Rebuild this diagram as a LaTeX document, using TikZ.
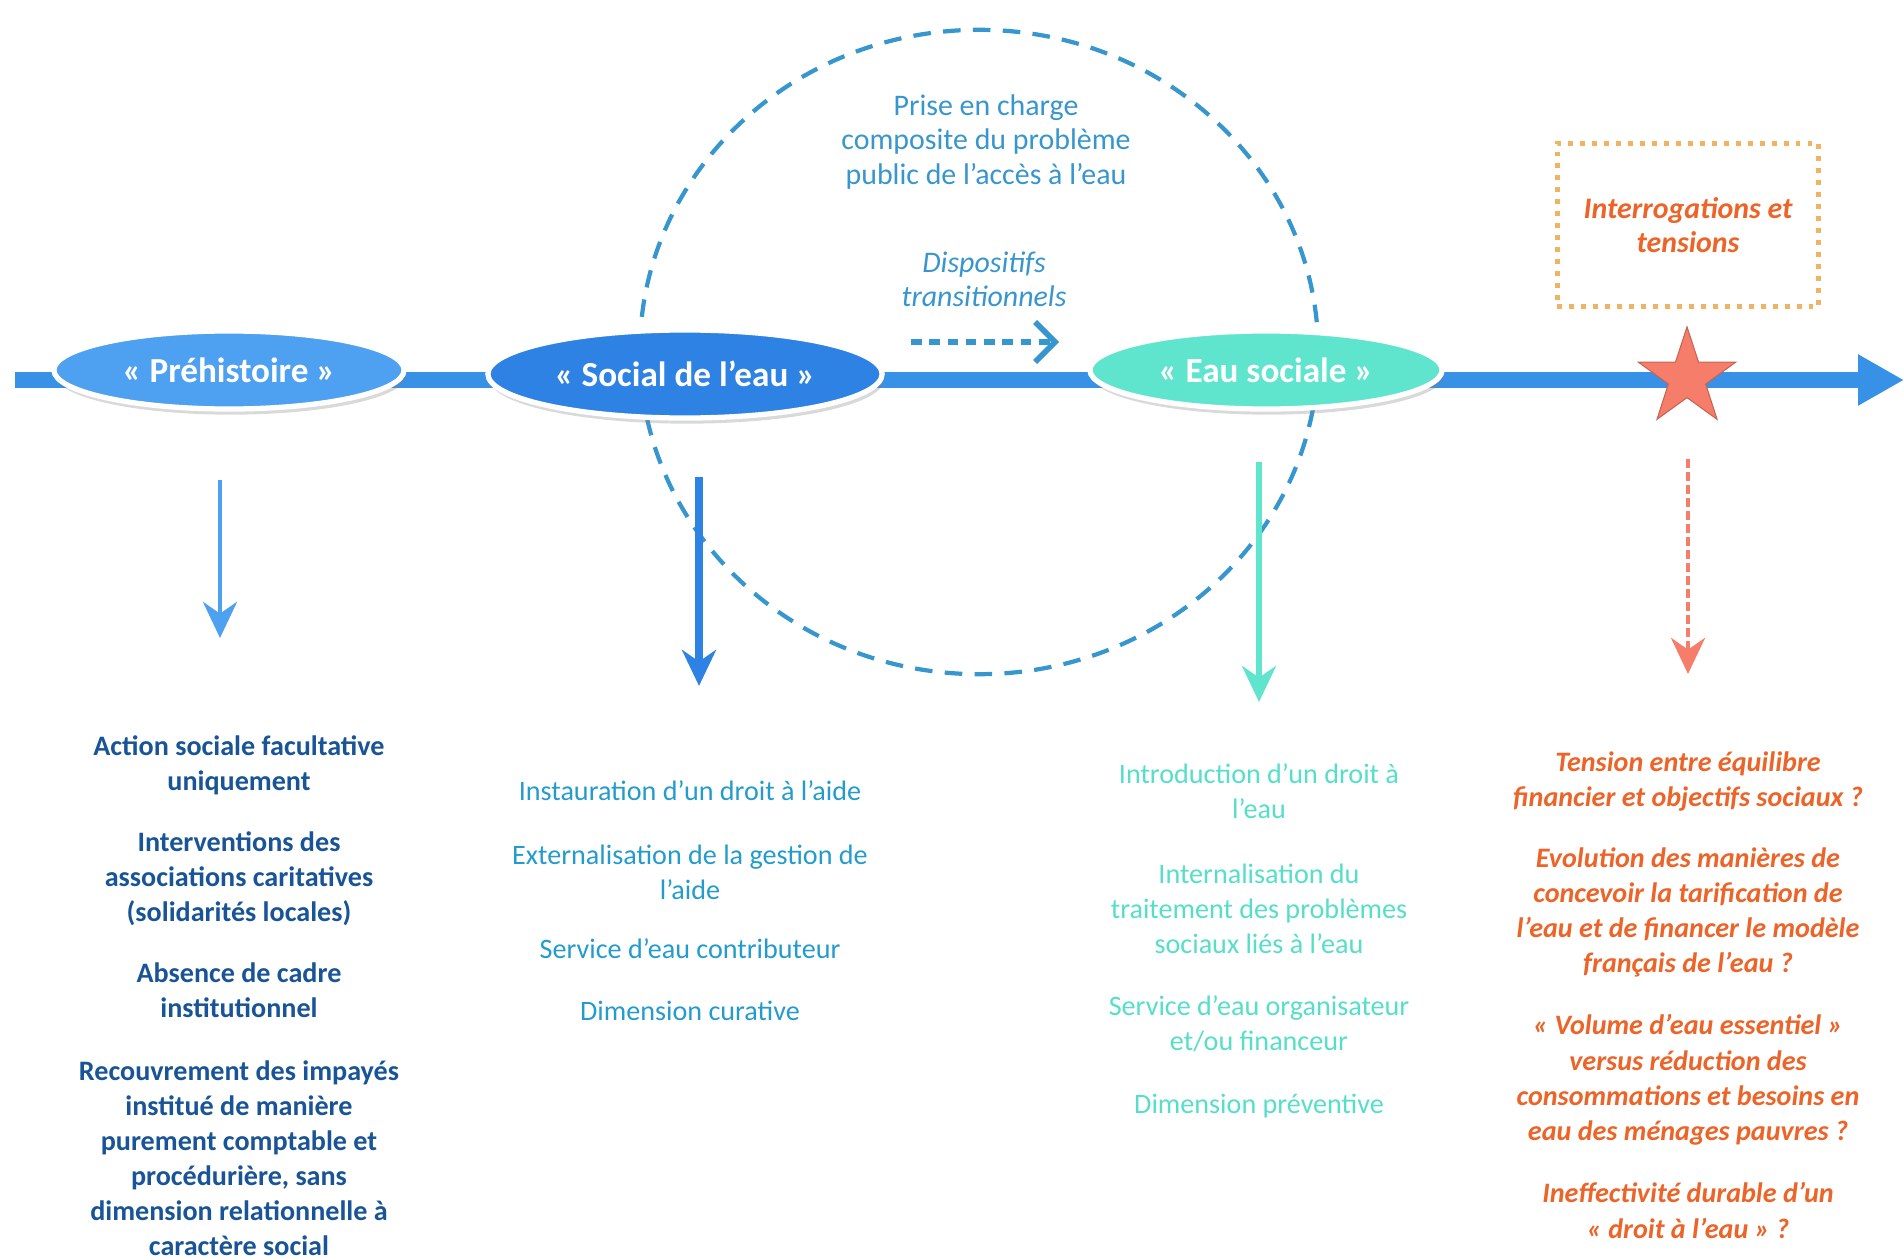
\documentclass[tikz,border=0pt]{standalone}
\usepackage{fontspec}
\setmainfont{Carlito}
\usetikzlibrary{shapes.geometric,arrows.meta,shadows}

\definecolor{axisblue}{RGB}{55,145,230}
\definecolor{preblue}{RGB}{78,160,240}
\definecolor{socblue}{RGB}{45,130,228}
\definecolor{eauturq}{RGB}{95,228,205}
\definecolor{cycblue}{RGB}{55,150,205}
\definecolor{starsalmon}{RGB}{246,125,105}
\definecolor{navytext}{RGB}{24,84,150}
\definecolor{tealtext}{RGB}{35,155,205}
\definecolor{turqtext}{RGB}{85,222,200}
\definecolor{orangetext}{RGB}{236,100,40}
\definecolor{boxorange}{RGB}{242,178,100}

\begin{document}
\begin{tikzpicture}[x=0.01cm, y=-0.01cm,
      every node/.style = {align=center, inner sep=0pt},
      phase/.style = {shape=ellipse, draw=white, line width=1.5pt,
        text=white, font=\fontsize{10}{12}\selectfont\bfseries,
        drop shadow={shadow xshift=0.6pt, shadow yshift=-1.6pt, opacity=0.3}},
      item/.style = {anchor=north, font=\fontsize{8}{9.96}\selectfont},
      down/.style = {-{Stealth[length=3.6mm, width=3.4mm]}}]
  \useasboundingbox (0,0) rectangle (1904,1258);
  \node[ellipse, draw=cycblue, line width=1.2pt, dash pattern=on 5pt off 3.5pt,
        minimum width=6.78cm, minimum height=6.44cm] (cyc) at (979,352) {};
  \coordinate (axL) at (15,380);
  \coordinate (axR) at (1904,380);
  \draw[axisblue, line width=4.5pt, -{Triangle[length=4.6mm, width=4.8mm]}] (axL) -- (axR);
  \node[phase, fill=preblue, minimum width=3.5cm, minimum height=0.78cm] (pre) at (229,370) {«~Préhistoire~»};
  \node[phase, fill=socblue, minimum width=3.94cm, minimum height=0.88cm] (soc) at (685,374) {«~Social de l'eau~»};
  \node[phase, fill=eauturq, minimum width=3.52cm, minimum height=0.78cm] (eau) at (1266,370) {«~Eau sociale~»};
  \node[star, star points=5, star point ratio=2.6, fill=starsalmon, draw=starsalmon!80!black,
        line width=0.3pt, minimum size=1.02cm] (tens) at (1687,378) {};
  \node[font=\fontsize{8.5}{9.7}\selectfont, text=cycblue] (prise) at (986,142)
      {Prise en charge\\composite du problème\\public de l'accès à l'eau};
  \node[font=\fontsize{8.5}{9.7}\selectfont\itshape, text=cycblue] (disp) at (984,279)
      {Dispositifs\\transitionnels};
  \coordinate (t1) at (911,342);
  \coordinate (t2) at (1059,342);
  \draw[cycblue, line width=1.6pt, dash pattern=on 3pt off 2.2pt,
        -{Straight Barb[length=2mm, width=4mm, line width=1.6pt]}] (t1) -- (t2);
  \node[draw=boxorange, line width=1.4pt, dotted, minimum width=2.61cm, minimum height=1.63cm,
        text=orangetext, font=\fontsize{8.5}{9.7}\selectfont\bfseries\itshape] (quest) at (1688,225)
      {Interrogations et\\tensions};
  \node[item, text=navytext, font=\fontsize{8}{9.96}\selectfont\bfseries] (a1) at (239,735)
      {Action sociale facultative\\uniquement};
  \node[item, text=navytext, font=\fontsize{8}{9.96}\selectfont\bfseries] (a2) at (239,831)
      {Interventions des\\associations caritatives\\(solidarités locales)};
  \node[item, text=navytext, font=\fontsize{8}{9.96}\selectfont\bfseries] (a3) at (239,962)
      {Absence de cadre\\institutionnel};
  \node[item, text=navytext, font=\fontsize{8}{9.96}\selectfont\bfseries] (a4) at (239,1060)
      {Recouvrement des impayés\\institué de manière\\purement comptable et\\procédurière, sans\\dimension relationnelle à\\caractère social};
  \node[item, text=tealtext] (b1) at (690,780) {Instauration d'un droit à l'aide};
  \node[item, text=tealtext] (b2) at (690,844) {Externalisation de la gestion de\\l'aide};
  \node[item, text=tealtext] (b3) at (690,938) {Service d'eau contributeur};
  \node[item, text=tealtext] (b4) at (690,1000) {Dimension curative};
  \node[item, text=turqtext] (c1) at (1259,763) {Introduction d'un droit à\\l'eau};
  \node[item, text=turqtext] (c2) at (1259,863) {Internalisation du\\traitement des problèmes\\sociaux liés à l'eau};
  \node[item, text=turqtext] (c3) at (1259,995) {Service d'eau organisateur\\et/ou financeur};
  \node[item, text=turqtext] (c4) at (1259,1093) {Dimension préventive};
  \node[item, text=orangetext, font=\fontsize{8}{9.96}\selectfont\bfseries\itshape] (d1) at (1688,751)
      {Tension entre équilibre\\financier et objectifs sociaux~?};
  \node[item, text=orangetext, font=\fontsize{8}{9.96}\selectfont\bfseries\itshape] (d2) at (1688,847)
      {Evolution des manières de\\concevoir la tarification de\\l'eau et de financer le modèle\\français de l'eau~?};
  \node[item, text=orangetext, font=\fontsize{8}{9.96}\selectfont\bfseries\itshape] (d3) at (1688,1014)
      {«~Volume d'eau essentiel~»\\versus réduction des\\consommations et besoins en\\eau des ménages pauvres~?};
  \node[item, text=orangetext, font=\fontsize{8}{9.96}\selectfont\bfseries\itshape] (d4) at (1688,1182)
      {Ineffectivité durable d'un\\«~droit à l'eau~»~?};
  \draw[down, preblue, line width=1.3pt, shorten <=0.68cm, shorten >=0.97cm]
      ([xshift=-0.09cm]pre.south) -- ([xshift=-0.09cm]pre.south |- a1.north);
  \draw[down, socblue, line width=2.2pt, shorten <=0.56cm, shorten >=0.94cm]
      ([xshift=0.14cm]soc.south) -- ([xshift=0.14cm]soc.south |- b1.north);
  \draw[down, eauturq, line width=1.6pt, shorten <=0.50cm, shorten >=0.61cm] (c1.north |- eau.south) -- (c1.north);
  \draw[down, starsalmon, line width=1.3pt, dash pattern=on 2.5pt off 1.2pt, shorten <=0.81cm, shorten >=0.77cm]
      (d1.north |- tens.center) -- (d1.north);
\end{tikzpicture}
\end{document}
